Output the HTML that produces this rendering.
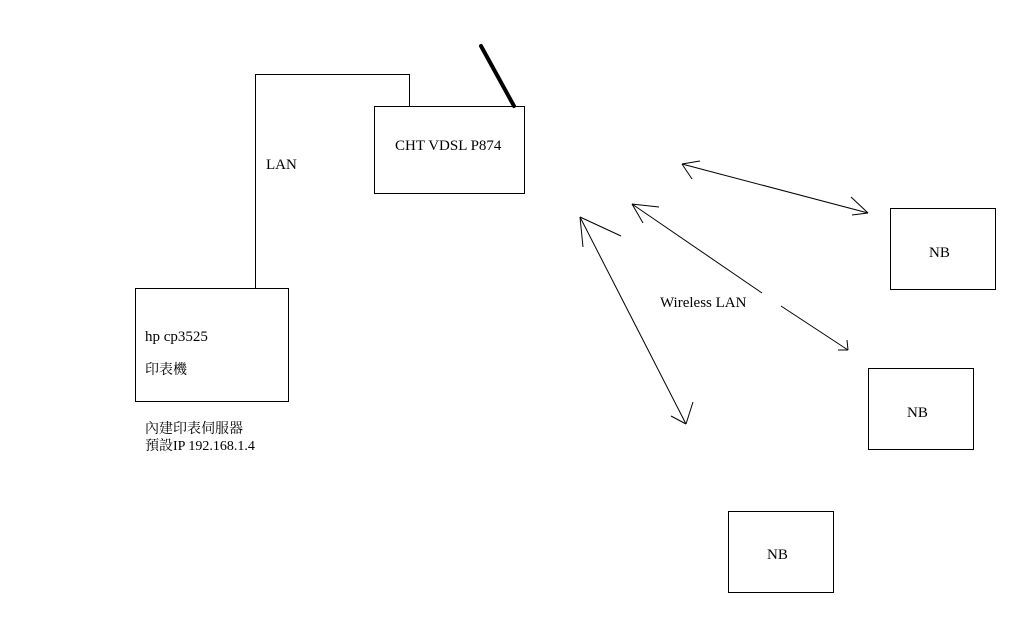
<!DOCTYPE html>
<html><head><meta charset="utf-8"><style>
html,body{margin:0;padding:0;background:#fff;}
svg{display:block}
text{font-family:"Liberation Serif","Noto Serif CJK SC","Noto Sans CJK TC",serif;font-size:15px;fill:#000}
text.cjk{font-size:14px}
</style></head><body>
<svg width="1018" height="621" viewBox="0 0 1018 621" xmlns="http://www.w3.org/2000/svg">
<g fill="none" stroke="#000" stroke-width="1">
<rect x="374.5" y="106.5" width="150" height="87"/>
<rect x="135.5" y="288.5" width="153" height="113"/>
<rect x="890.5" y="208.5" width="105" height="81"/>
<rect x="868.5" y="368.5" width="105" height="81"/>
<rect x="728.5" y="511.5" width="105" height="81"/>
<polyline points="255.5,288 255.5,74.5 409.5,74.5 409.5,106"/>
<line x1="682" y1="164" x2="868" y2="213"/>
<line x1="682" y1="164" x2="700" y2="161"/>
<line x1="682" y1="164" x2="692" y2="179"/>
<line x1="868" y1="213" x2="851" y2="197"/>
<line x1="868" y1="213" x2="852" y2="215"/>
<line x1="632" y1="204" x2="762" y2="293"/>
<line x1="781" y1="306" x2="848" y2="350"/>
<line x1="632" y1="204" x2="659" y2="207"/>
<line x1="632" y1="204" x2="643" y2="223"/>
<line x1="848" y1="350" x2="847" y2="340"/>
<line x1="848" y1="350" x2="838" y2="350"/>
<line x1="580" y1="217" x2="686" y2="424"/>
<line x1="580" y1="217" x2="621" y2="236"/>
<line x1="580" y1="217" x2="583" y2="247"/>
<line x1="686" y1="424" x2="693" y2="402"/>
<line x1="686" y1="424" x2="671" y2="416"/>
</g>
<line x1="481" y1="46" x2="514" y2="106" stroke="#000" stroke-width="4" stroke-linecap="round"/>
<text x="395" y="150">CHT VDSL P874</text>
<text x="266" y="169">LAN</text>
<text x="145" y="341">hp cp3525</text>
<text class="cjk" x="145" y="374">印表機</text>
<text class="cjk" x="145" y="433">內建印表伺服器</text>
<text class="cjk" x="145" y="450">預設IP 192.168.1.4</text>
<text x="660" y="307">Wireless LAN</text>
<text x="929" y="257">NB</text>
<text x="907" y="417">NB</text>
<text x="767" y="559">NB</text>
</svg>
</body></html>
